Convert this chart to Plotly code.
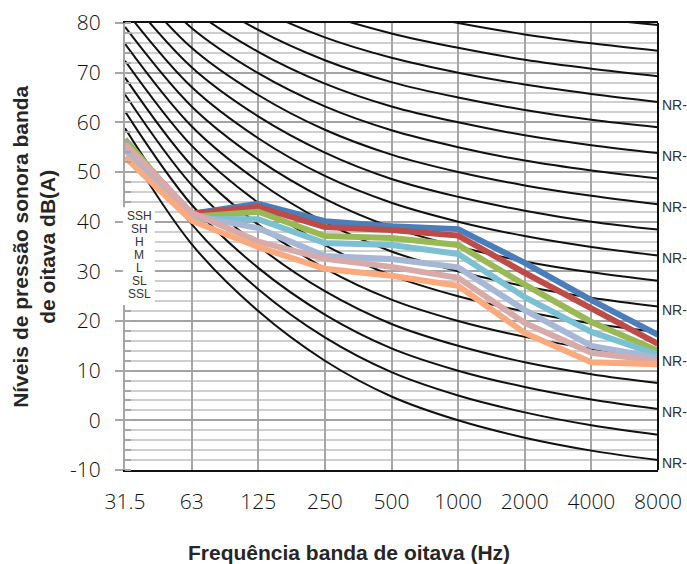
import plotly.graph_objects as go

# ---------------- data ----------------
freqs = ["31.5", "63", "125", "250", "500", "1000", "2000", "4000", "8000"]

nr_levels = [0, 5, 10, 15, 20, 25, 30, 35, 40, 45, 50, 55, 60, 65, 70, 75, 80, 85]
nr_curves = [
    [55.4, 35.5, 22.0, 12.0, 4.8, 0.0, -3.5, -6.1, -8.0],
    [58.8, 39.5, 26.4, 16.7, 9.7, 5.0, 1.6, -1.0, -2.9],
    [62.2, 43.4, 30.7, 21.3, 14.5, 10.0, 6.7, 4.2, 2.3],
    [65.6, 47.4, 35.1, 26.0, 19.4, 15.0, 11.7, 9.3, 7.5],
    [69.0, 51.3, 39.4, 30.6, 24.3, 20.0, 16.8, 14.4, 12.6],
    [72.4, 55.3, 43.8, 35.3, 29.2, 25.0, 21.9, 19.5, 17.8],
    [75.8, 59.2, 48.1, 39.9, 34.0, 30.0, 27.0, 24.7, 22.9],
    [79.2, 63.2, 52.5, 44.6, 38.9, 35.0, 32.0, 29.8, 28.1],
    [82.6, 67.1, 56.8, 49.2, 43.8, 40.0, 37.1, 34.9, 33.2],
    [86.0, 71.1, 61.2, 53.9, 48.6, 45.0, 42.2, 40.0, 38.4],
    [89.5, 75.0, 65.5, 58.5, 53.5, 50.0, 47.3, 45.2, 43.5],
    [92.9, 79.0, 69.9, 63.2, 58.4, 55.0, 52.3, 50.3, 48.7],
    [96.3, 82.9, 74.2, 67.8, 63.2, 60.0, 57.4, 55.4, 53.8],
    [99.7, 86.9, 78.6, 72.5, 68.1, 65.0, 62.5, 60.5, 59.0],
    [103.1, 90.8, 82.9, 77.1, 73.0, 70.0, 67.6, 65.7, 64.1],
    [106.5, 94.8, 87.3, 81.8, 77.9, 75.0, 72.6, 70.8, 69.3],
    [109.9, 98.7, 91.6, 86.4, 82.7, 80.0, 77.7, 75.9, 74.4],
    [113.3, 102.7, 96.0, 91.1, 87.6, 85.0, 82.8, 81.0, 79.6],
]
nr_labelled = [0, 10, 20, 30, 40, 50, 60, 70]

series_names = ["SSH", "SH", "H", "M", "L", "SL", "SSL"]
ssh = [55.5, 41.6, 43.6, 40.1, 39.1, 38.5, 31.7, 24.2, 17.2]
sh = [56.0, 41.6, 43.0, 38.9, 38.3, 37.2, 29.7, 22.4, 15.4]
h = [56.6, 41.0, 42.0, 37.1, 36.7, 35.3, 27.3, 19.8, 14.0]
m = [55.0, 40.6, 40.5, 35.7, 35.3, 33.5, 24.8, 17.8, 13.2]
l_ = [54.4, 41.3, 38.7, 33.1, 32.5, 30.8, 22.2, 15.0, 12.6]
sl = [55.7, 41.8, 36.0, 32.5, 30.9, 28.7, 19.6, 13.6, 12.0]
ssl = [53.0, 40.2, 34.9, 30.5, 29.1, 27.1, 17.6, 11.7, 11.3]
series_values = [ssh, sh, h, m, l_, sl, ssl]
series_colors = ["#4A7EBB", "#BE4B48", "#98B954", "#7CC0D3", "#A7B8D6", "#D8AAAA", "#FBAA7E"]

y_ticks = [-10, 0, 10, 20, 30, 40, 50, 60, 70, 80]
y_ticktext = ["-10", "0", "10", "20", "30", "40", "50", "60", "70", "80"]

# ---------------- figure ----------------
fig = go.Figure()

for lvl, vals in zip(nr_levels, nr_curves):
    fig.add_trace(go.Scatter(
        x=freqs, y=vals, mode="lines", name=f"NR-{lvl}",
        line=dict(color="#111111", width=2, shape="spline", smoothing=1.0),
        showlegend=False, hoverinfo="skip"))

for name, vals, col in zip(series_names, series_values, series_colors):
    fig.add_trace(go.Scatter(
        x=freqs, y=vals, mode="lines", name=name,
        line=dict(color=col, width=6), showlegend=False))

tick_font = dict(family="Open Sans, Liberation Sans, sans-serif", size=21, color="#111111", weight=300)
title_font = dict(family="Liberation Sans Narrow, Liberation Sans, sans-serif", size=21, color="#262626", weight="bold")
small_font = dict(family="Liberation Sans Narrow, Liberation Sans, sans-serif", size=14, color="#333333")

annotations = []
# NR labels on right
for lvl in nr_labelled:
    vals = nr_curves[nr_levels.index(lvl)]
    annotations.append(dict(
        x=len(freqs) - 1, y=vals[-1], xref="x", yref="y", text="NR-",
        showarrow=False, xanchor="left", yanchor="middle", xshift=2, yshift=-3,
        font=small_font))

# legend-like labels
leg_top = 0.585
leg_step = 13 / 447
for i, name in enumerate(series_names):
    annotations.append(dict(
        x=0.027, y=leg_top - 0.017 - i * leg_step, xref="paper", yref="paper", text=name,
        showarrow=False, xanchor="center", yanchor="middle",
        font=dict(family="Liberation Sans Narrow, Liberation Sans, sans-serif", size=12, color="#333333")))

# y-axis title (two lines)
annotations.append(dict(
    x=-0.172, y=0.5, xref="paper", yref="paper",
    text="Níveis de pressão sonora banda<br>de oitava dB(A)",
    showarrow=False, textangle=-90, xanchor="center", yanchor="middle",
    font=title_font))
# x-axis title
annotations.append(dict(
    x=0.42, y=-0.185, xref="paper", yref="paper",
    text="Frequência banda de oitava (Hz)",
    showarrow=False, xanchor="center", yanchor="middle",
    font=title_font))

shapes = [
    # white legend box
    dict(type="rect", xref="paper", yref="paper", x0=-0.004, x1=0.056, y0=0.369, y1=0.588,
         fillcolor="white", line=dict(width=0), layer="above"),
    # right border
    dict(type="line", xref="paper", yref="paper", x0=1, x1=1, y0=0, y1=1,
         line=dict(color="#111111", width=2), layer="above"),
]

fig.update_layout(
    width=687, height=564,
    margin=dict(l=125, r=29, t=23, b=94),
    paper_bgcolor="white", plot_bgcolor="white",
    showlegend=False,
    annotations=annotations,
    shapes=shapes,
    xaxis=dict(
        type="category", range=[0, len(freqs) - 1],
        showgrid=True, gridcolor="#a6a6a6", gridwidth=1.5,
        showline=True, linecolor="#111111", linewidth=2, mirror=True,
        ticks="", tickfont=tick_font, ticklabelstandoff=12,
        zeroline=False, automargin=False),
    yaxis=dict(
        range=[-10, 80], tickvals=y_ticks, ticktext=y_ticktext,
        showgrid=True, gridcolor="#a3a3a3", gridwidth=1.5,
        showline=True, linecolor="#a6a6a6", linewidth=2,
        ticks="outside", ticklen=8, tickcolor="#a6a6a6", tickwidth=1.5,
        tickfont=tick_font, ticklabelstandoff=10,
        zeroline=False, automargin=False,
        minor=dict(dtick=2, showgrid=True, gridcolor="#cfcfcf", gridwidth=1.5,
                   ticks="inside", ticklen=6, tickcolor="#a6a6a6", tickwidth=1.5)),
)

fig.write_html("out.html", config={"displayModeBar": False},
               post_script="document.body.style.margin='0';document.body.style.overflow='hidden';")
